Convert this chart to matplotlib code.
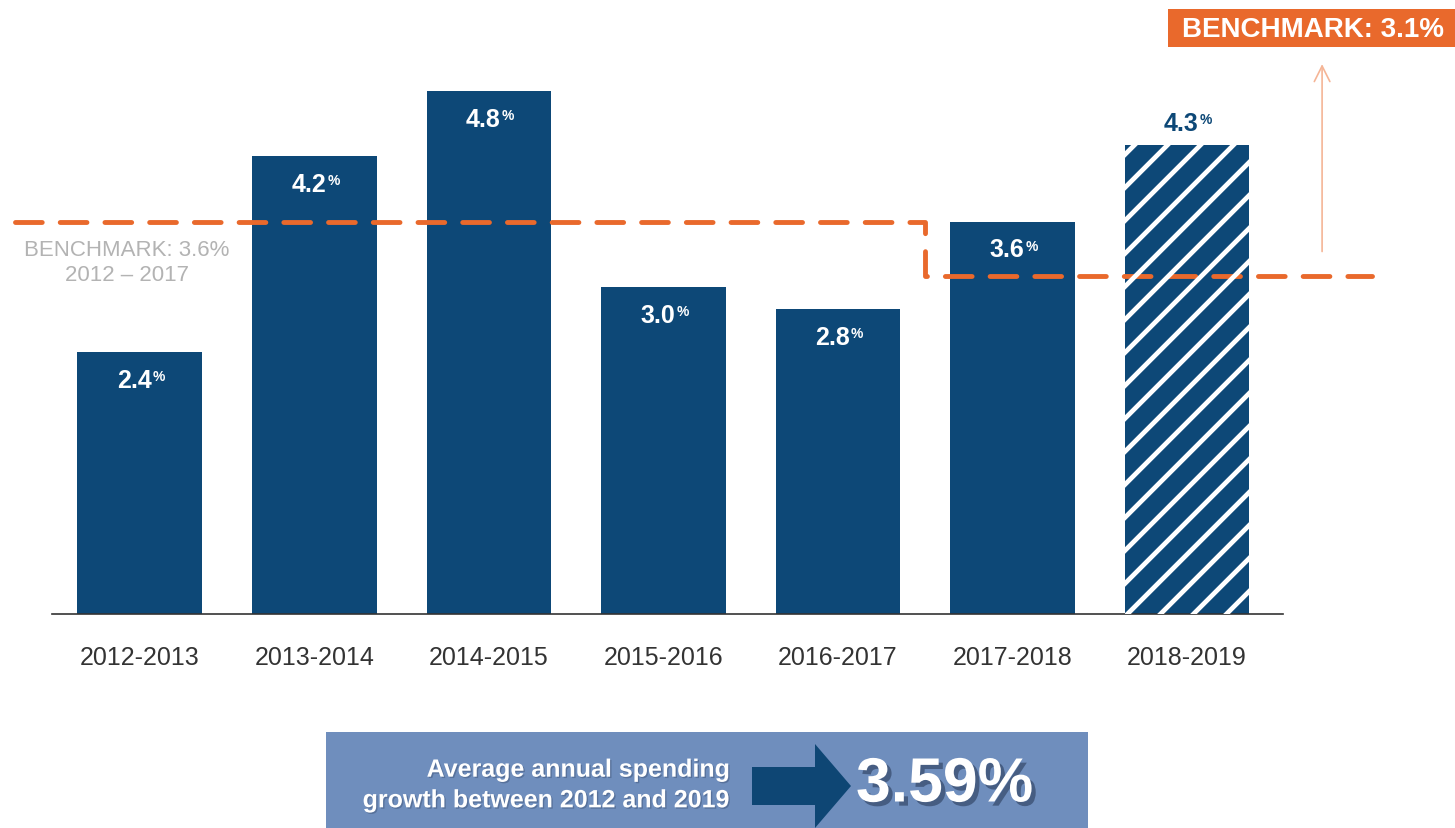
import matplotlib
matplotlib.use("Agg")
import matplotlib.pyplot as plt
import matplotlib.patheffects as pe
from matplotlib.patches import Rectangle, Polygon
from matplotlib.transforms import IdentityTransform
from matplotlib.lines import Line2D

plt.rcParams['font.family'] = ['Liberation Sans', 'DejaVu Sans']

# 資料
periods = ['2012-2013', '2013-2014', '2014-2015', '2015-2016',
           '2016-2017', '2017-2018', '2018-2019']
growth = [2.4, 4.2, 4.8, 3.0, 2.8, 3.6, 4.3]
bench_old = 3.6      # 2012-2017
bench_new = 3.1
avg_growth = '3.59%'

blue = '#0D4877'
orange = '#E9692C'

fig = plt.figure(figsize=(14.55, 8.29), dpi=100)
ax = fig.add_axes([52 / 1455, 1 - 615 / 829, 1231 / 1455, 615 / 829])
ax.set_xlim(-0.504, 6.55)
ax.set_ylim(0, 5.642)

x = list(range(len(periods)))
bars = ax.bar(x, growth, width=0.716, color=blue, zorder=2)
bars[-1].set_linewidth(0)

for s in ['top', 'right', 'left']:
    ax.spines[s].set_visible(False)
ax.spines['bottom'].set_color('#333333')
ax.spines['bottom'].set_linewidth(1.2)
ax.set_yticks([])
ax.set_xticks(x)
ax.set_xticklabels(periods, fontsize=18, color='#333333')
ax.tick_params(axis='x', length=0, pad=22)

# 數值標籤
for i, v in enumerate(growth):
    last = i == len(growth) - 1
    col = blue if last else 'white'
    off = 16 if last else -20
    t = ax.annotate(f'{v:.1f}', xy=(i, v), xytext=(-4, off), textcoords='offset points',
                    ha='center', va='center', fontsize=18, fontweight='bold', color=col, zorder=4)
    ax.annotate('%', xy=(1, 0.95), xycoords=t, xytext=(0.8, 0), textcoords='offset points',
                ha='left', va='top', fontsize=10, fontweight='bold', color=col, zorder=4)

# 斜線 (最後一根)
fig.canvas.draw()
b = bars[-1]
(x0, y0) = ax.transData.transform((b.get_x(), 0))
(x1, y1) = ax.transData.transform((b.get_x() + b.get_width(), b.get_height()))
c = y0 - x1 - 10
while c < y1 - x0 + 10:
    ln = Line2D([x0 - 5, x1 + 5], [x0 - 5 + c, x1 + 5 + c], transform=IdentityTransform(),
                color='white', lw=3.4, zorder=3)
    ln.set_clip_path(b)
    fig.add_artist(ln)
    c += 33

# 基準線
ax.plot([-0.716, 4.499, 4.499, 7.06], [bench_old, bench_old, bench_new, bench_new],
        color=orange, lw=3.5, dashes=(5.5, 3.7), dash_capstyle='round',
        clip_on=False, zorder=5)
ax.text(-0.075, 3.23, f'BENCHMARK: {bench_old}%\n2012 – 2017', ha='center', va='center',
        fontsize=16, color='#B3B3B3', linespacing=1.3)
ax.annotate('', xy=(6.774, 5.07), xytext=(6.774, 3.30),
            arrowprops=dict(arrowstyle='->', color='#F5B596', lw=1.2, mutation_scale=28),
            annotation_clip=False)

# 疊加層 (像素座標)
ov = fig.add_axes([0, 0, 1, 1])
ov.set_xlim(0, 1455)
ov.set_ylim(829, 0)
ov.axis('off')
ov.patch.set_visible(False)

ov.add_patch(Rectangle((1168, 10), 300, 38, color=orange, lw=0))
ov.text(1313, 30, f'BENCHMARK: {bench_new}%', ha='center', va='center',
        fontsize=20, fontweight='bold', color='white')

ov.add_patch(Rectangle((326, 733), 762, 100, color='#6F8EBD', lw=0))
ov.add_patch(Polygon([(752, 768), (815, 768), (815, 745), (851, 787),
                      (815, 829), (815, 806), (752, 806)], closed=True, color='#0E4674', lw=0))
shadow = [pe.SimplePatchShadow(offset=(1, -1), shadow_rgbFace='#2B3D5C', alpha=0.35), pe.Normal()]
ov.text(730, 786, 'Average annual spending\ngrowth between 2012 and 2019', ha='right', va='center',
        fontsize=18, fontweight='bold', color='white', linespacing=1.35, path_effects=shadow)
ov.text(856, 786, avg_growth, ha='left', va='center', fontsize=45, fontweight='bold',
        color='white', path_effects=[pe.SimplePatchShadow(offset=(3, -3), shadow_rgbFace='#2B3D5C',
                                                          alpha=0.6), pe.Normal()])

fig.savefig('out.png', dpi=100)
